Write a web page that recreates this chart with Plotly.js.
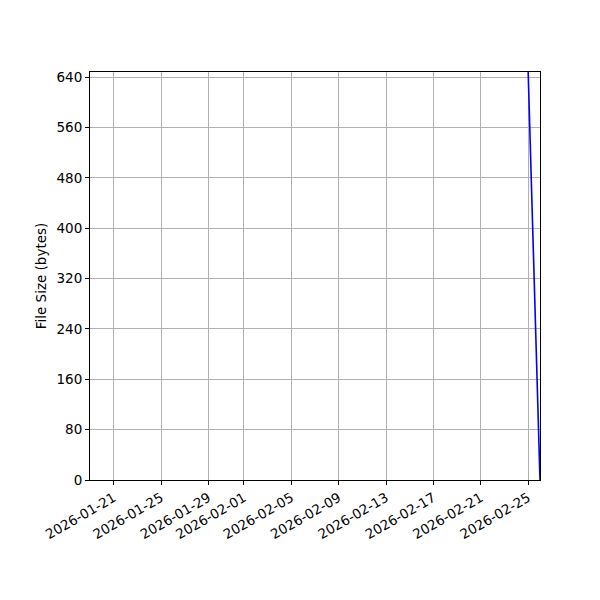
<!DOCTYPE html>
<html>
<head>
<meta charset="utf-8">
<script src="https://cdn.plot.ly/plotly-3.0.1.min.js"></script>
<style>
  html, body { margin: 0; padding: 0; background: #fff; }
  #chart { width: 600px; height: 600px; }
</style>
</head>
<body>
<div id="chart"></div>
<script>
// commit dates and file sizes
const dates = ['2026-02-25 00:00', '2026-02-26 00:00']
const sizes = [648, 0]

const tickDates = ['2026-01-21', '2026-01-25', '2026-01-29', '2026-02-01', '2026-02-05',
                   '2026-02-09', '2026-02-13', '2026-02-17', '2026-02-21', '2026-02-25']
const yTicks = [0, 80, 160, 240, 320, 400, 480, 560, 640]

const font = { family: 'DejaVu Sans', size: 13.5, color: '#000' }

var data = [
    {
        x: dates,
        y: sizes,
        mode: 'lines',
        line: { color: '#0000ff', width: 1.6 },
    },
]

var axisCommon = {
    showline: true,
    linecolor: '#000',
    linewidth: 1,
    mirror: true,
    ticks: 'outside',
    ticklen: 4,
    tickwidth: 1,
    tickcolor: '#000',
    showgrid: true,
    gridcolor: '#b0b0b0',
    gridwidth: 1,
    zeroline: false,
    tickfont: font,
}

var layout = {
    width: 600,
    height: 600,
    margin: { l: 90, r: 60, t: 72, b: 120 },
    paper_bgcolor: '#fff',
    plot_bgcolor: '#fff',
    font: font,
    showlegend: false,
    xaxis: Object.assign({}, axisCommon, {
        type: 'date',
        range: ['2026-01-19 00:00', '2026-02-26 00:00'],
        tickmode: 'array',
        tickvals: tickDates,
        ticktext: tickDates,
        tickangle: -30,
    }),
    yaxis: Object.assign({}, axisCommon, {
        range: [0, 648],
        tickmode: 'array',
        tickvals: yTicks,
        ticktext: yTicks.map(String),
        title: { text: 'File Size (bytes)', font: font, standoff: 6 },
    }),
}

Plotly.newPlot('chart', data, layout, { staticPlot: true })
</script>
</body>
</html>
